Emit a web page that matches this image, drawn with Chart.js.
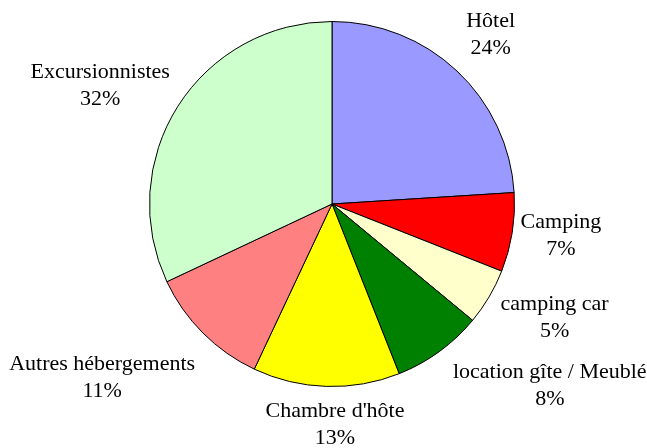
<!DOCTYPE html>
<html>
<head>
    <title>Répartition</title>
    <script src="https://cdn.jsdelivr.net/npm/chart.js"></script>
    <style>
        body { margin: 0; background: #ffffff; }
        #wrap { width: 647px; height: 448px; }
    </style>
</head>
<body>
    <div id="wrap"><canvas id="myChart" width="647" height="448"></canvas></div>
    <script>
        // données
        const categories = ['Hôtel', 'Camping', 'camping car', 'location gîte / Meublé', "Chambre d'hôte", 'Autres hébergements', 'Excursionnistes'];
        const shares = [24, 7, 5, 8, 13, 11, 32];
        const sliceColors = ['#9999FF', '#FF0000', '#FFFFCC', '#008000', '#FFFF00', '#FF8080', '#CCFFCC'];

        const labelFont = '22px "Liberation Serif"';

        // étiquettes à l'extérieur, façon Excel
        const outsideLabels = {
            id: 'outsideLabels',
            afterDatasetsDraw(chart) {
                const ctx = chart.ctx;
                const meta = chart.getDatasetMeta(0);
                const total = shares.reduce((a, b) => a + b, 0);
                const lineH = 27;
                ctx.save();
                ctx.font = labelFont + ', serif';
                ctx.fillStyle = '#000000';
                ctx.textAlign = 'center';
                ctx.textBaseline = 'middle';
                meta.data.forEach((arc, i) => {
                    const p = arc.getProps(['x', 'y', 'startAngle', 'endAngle', 'outerRadius']);
                    const mid = (p.startAngle + p.endAngle) / 2;
                    const dx = Math.cos(mid), dy = Math.sin(mid);
                    const lines = [categories[i], Math.round(shares[i] / total * 100) + '%'];
                    const w = Math.max(...lines.map(t => ctx.measureText(t).width));
                    const h = lines.length * lineH;
                    const gap = 7 + 8 * Math.max(0, dy) + 6 * Math.max(0, -dx);
                    const ax = p.x + dx * (p.outerRadius + gap);
                    const ay = p.y + dy * (p.outerRadius + gap);
                    const sx = Math.sign(dx) * Math.min(1, Math.abs(dx) * 2);
                    const sy = Math.sign(dy) * Math.min(1, Math.abs(dy) * 1.4);
                    const cx = ax + sx * w / 2 + 14 * (1 - Math.abs(dx));
                    const cy = ay + sy * h / 2 - 4 + (dx < -0.3 ? 10 : 0);
                    lines.forEach((t, j) => {
                        ctx.fillText(t, cx, cy - h / 2 + lineH * (j + 0.5));
                    });
                });
                ctx.restore();
            }
        };

        function draw() {
            const ctx = document.getElementById('myChart').getContext('2d');
            new Chart(ctx, {
                type: 'pie',
                data: {
                    labels: categories,
                    datasets: [{
                        data: shares,
                        backgroundColor: sliceColors,
                        borderColor: '#000000',
                        borderWidth: 1
                    }]
                },
                options: {
                    responsive: false,
                    animation: false,
                    devicePixelRatio: 1,
                    layout: {
                        padding: { left: 149, right: 132, top: 20, bottom: 60 }
                    },
                    plugins: {
                        legend: { display: false },
                        tooltip: { enabled: false },
                        title: { display: false }
                    }
                },
                plugins: [outsideLabels]
            });
        }

        document.fonts.load(labelFont).then(draw, draw);
    </script>
</body>
</html>
